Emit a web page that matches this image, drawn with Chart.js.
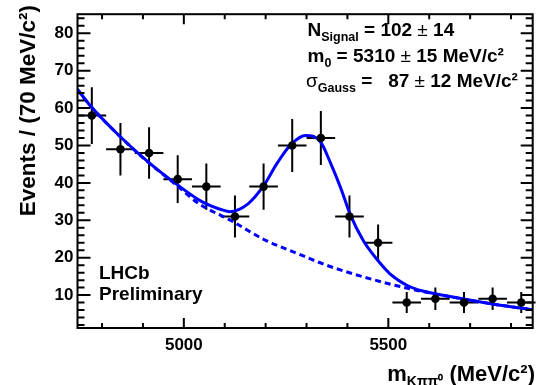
<!DOCTYPE html>
<html>
<head>
<meta charset="utf-8">
<script src="https://cdn.jsdelivr.net/npm/chart.js@4.4.1/dist/chart.umd.min.js"></script>
<style>
  html, body { margin: 0; padding: 0; background: #fff; }
  #wrap { width: 537px; height: 385px; }
</style>
</head>
<body>
<div id="wrap"><canvas id="c" width="537" height="385"></canvas></div>
<script>
// ── data ───────────────────────────────────────────
const xMin = 4740, xMax = 5853;
const yMin = 1.2,  yMax = 85.1;
const binWidth = 70;

const binCenters = [4775, 4845, 4915, 4985, 5055, 5125, 5195, 5265, 5335, 5405, 5475, 5545, 5615, 5685, 5755, 5825];
const counts     = [58, 49, 48, 41, 39, 31, 39, 50, 52, 31, 24, 8, 9, 8, 9, 8];
const errors     = [7.6, 7.0, 6.9, 6.4, 6.2, 5.6, 6.2, 7.1, 7.2, 5.6, 4.9, 2.8, 3.0, 2.8, 3.0, 2.8];

// total fit (signal + background), solid
const fitM = [4740, 4773, 4844, 4914, 4983, 5044, 5096, 5112, 5157, 5193, 5229, 5262, 5298, 5334, 5358, 5383, 5407, 5439, 5471, 5504, 5544, 5568, 5600, 5641, 5681, 5762, 5853];
const fitV = [65.0, 60.4, 52.4, 45.5, 39.6, 35.0, 32.7, 32.3, 34.4, 38.9, 45.4, 50.3, 52.7, 51.0, 45.5, 38.8, 31.5, 24.5, 19.7, 15.7, 12.7, 11.6, 10.7, 9.8, 9.0, 7.5, 6.1];

// background only, dashed
const bkgM = [4740, 4773, 4844, 4914, 4983, 5036, 5116, 5197, 5278, 5346, 5407, 5488, 5552, 5600, 5681, 5762, 5853];
const bkgV = [65.0, 60.4, 52.4, 45.4, 39.3, 34.5, 29.9, 24.8, 21.1, 18.1, 15.9, 13.4, 11.7, 10.6, 9.0, 7.5, 6.1];

const xTickLabels = [5000, 5500];
const yTickLabels = [10, 20, 30, 40, 50, 60, 70, 80];

// ── helpers ────────────────────────────────────────
const FAM = '"Liberation Sans", Arial, Helvetica, sans-serif';
const font = (s, w) => `${w || "bold"} ${s}px ${FAM}`;

function runsWidth(ctx, parts) {
  let w = 0;
  for (const p of parts) { ctx.font = font(p.s || 19, p.w); w += ctx.measureText(p.t).width; }
  return w;
}
function drawRuns(ctx, x, y, parts) {
  for (const p of parts) {
    ctx.font = font(p.s || 19, p.w);
    ctx.fillText(p.t, x, y + (p.dy || 0));
    x += ctx.measureText(p.t).width;
  }
}

// ── ROOT style frame / error bars / labels ─────────
const rootStyle = {
  id: "rootStyle",
  beforeDatasetsDraw(chart) {
    const { ctx, scales: { x, y } } = chart;
    ctx.save();
    ctx.strokeStyle = "#000";
    ctx.lineWidth = 2;
    binCenters.forEach((m, i) => {
      const px = x.getPixelForValue(m);
      const py = y.getPixelForValue(counts[i]);
      ctx.beginPath();
      ctx.moveTo(x.getPixelForValue(m - binWidth / 2), py);
      ctx.lineTo(x.getPixelForValue(m + binWidth / 2), py);
      ctx.moveTo(px, y.getPixelForValue(counts[i] - errors[i]));
      ctx.lineTo(px, y.getPixelForValue(counts[i] + errors[i]));
      ctx.stroke();
    });
    ctx.restore();
  },
  afterDraw(chart) {
    const { ctx, chartArea: a, scales: { x, y } } = chart;
    ctx.save();
    ctx.strokeStyle = "#000";
    ctx.fillStyle = "#000";
    ctx.lineWidth = 2;
    ctx.strokeRect(a.left, a.top, a.right - a.left, a.bottom - a.top);

    // ticks, inside the frame on all four sides
    ctx.beginPath();
    for (let v = 2; v < yMax; v += 2) {
      const py = y.getPixelForValue(v);
      const major = v % 10 === 0;
      ctx.moveTo(a.left, py);  ctx.lineTo(a.left + (major ? 13 : 7), py);
      ctx.moveTo(a.right, py); ctx.lineTo(a.right - (major ? 12 : 7), py);
    }
    for (let v = 4800; v < xMax; v += 100) {
      const px = x.getPixelForValue(v);
      const major = v % 500 === 0;
      ctx.moveTo(px, a.bottom); ctx.lineTo(px, a.bottom - (major ? 10 : 5));
      ctx.moveTo(px, a.top);    ctx.lineTo(px, a.top + (major ? 10 : 5));
    }
    ctx.stroke();

    ctx.textAlign = "left";
    ctx.textBaseline = "alphabetic";

    // fit results
    drawRuns(ctx, 307.5, 36, [
      { t: "N" }, { t: "Signal", s: 12.5, dy: 5 }, { t: " = 102 " }, { t: "±", w: "normal" }, { t: " 14" }]);
    drawRuns(ctx, 307.5, 62, [
      { t: "m" }, { t: "0", s: 12.5, dy: 5 }, { t: " = 5310 " }, { t: "±", w: "normal" }, { t: " 15 MeV/c²" }]);
    drawRuns(ctx, 306, 87, [
      { t: "σ", w: "normal" }, { t: "Gauss", s: 12.5, dy: 5 }, { t: " =   87 " }, { t: "±", w: "normal" }, { t: " 12 MeV/c²" }]);

    // experiment tag
    ctx.font = font(19);
    ctx.fillText("LHCb", 99, 279);
    ctx.fillText("Preliminary", 99, 300);

    // x title, right aligned to the frame
    const xt = [{ t: "m", s: 22 }, { t: "Kππ⁰", s: 14, dy: 5 }, { t: " (MeV/c²)", s: 22 }];
    drawRuns(ctx, 535 - runsWidth(ctx, xt), 381, xt);

    // y title, rotated, top aligned
    ctx.translate(35, 5);
    ctx.rotate(-Math.PI / 2);
    ctx.textAlign = "right";
    ctx.font = font(22.5);
    ctx.fillText("Events / (70 MeV/c²)", 0, 0);
    ctx.restore();
  }
};

// ── chart ──────────────────────────────────────────
Chart.defaults.font.family = FAM;

new Chart(document.getElementById("c"), {
  type: "scatter",
  data: {
    datasets: [
      {
        data: binCenters.map((m, i) => ({ x: m, y: counts[i] })),
        pointRadius: 4.3,
        pointBackgroundColor: "#000",
        pointBorderWidth: 0,
        showLine: false,
      },
      {
        data: fitM.map((m, i) => ({ x: m, y: fitV[i] })),
        showLine: true,
        borderColor: "#0000ff",
        borderWidth: 3,
        pointRadius: 0,
        cubicInterpolationMode: "monotone",
      },
      {
        data: bkgM.map((m, i) => ({ x: m, y: bkgV[i] })),
        showLine: true,
        borderColor: "#0000ff",
        borderWidth: 3,
        borderDash: [6, 4],
        pointRadius: 0,
        cubicInterpolationMode: "monotone",
      },
    ],
  },
  options: {
    responsive: false,
    animation: false,
    devicePixelRatio: 1,
    layout: { padding: { top: 6, right: 1.2, left: 0, bottom: 0 } },
    plugins: { legend: { display: false }, tooltip: { enabled: false } },
    scales: {
      x: {
        type: "linear",
        min: xMin,
        max: xMax,
        grid: { display: false, drawTicks: false },
        border: { display: false },
        afterBuildTicks: s => { s.ticks = xTickLabels.map(v => ({ value: v })); },
        afterFit: s => { s.height = 57; },
        ticks: { color: "#000", font: { size: 17, weight: "bold" }, padding: 7, maxRotation: 0, callback: v => String(v) },
      },
      y: {
        min: yMin,
        max: yMax,
        grid: { display: false, drawTicks: false },
        border: { display: false },
        afterBuildTicks: s => { s.ticks = yTickLabels.map(v => ({ value: v })); },
        afterFit: s => { s.width = 77.5; },
        ticks: { color: "#000", font: { size: 17, weight: "bold" }, padding: 4, callback: v => String(v) },
      },
    },
  },
  plugins: [rootStyle],
});
</script>
</body>
</html>
